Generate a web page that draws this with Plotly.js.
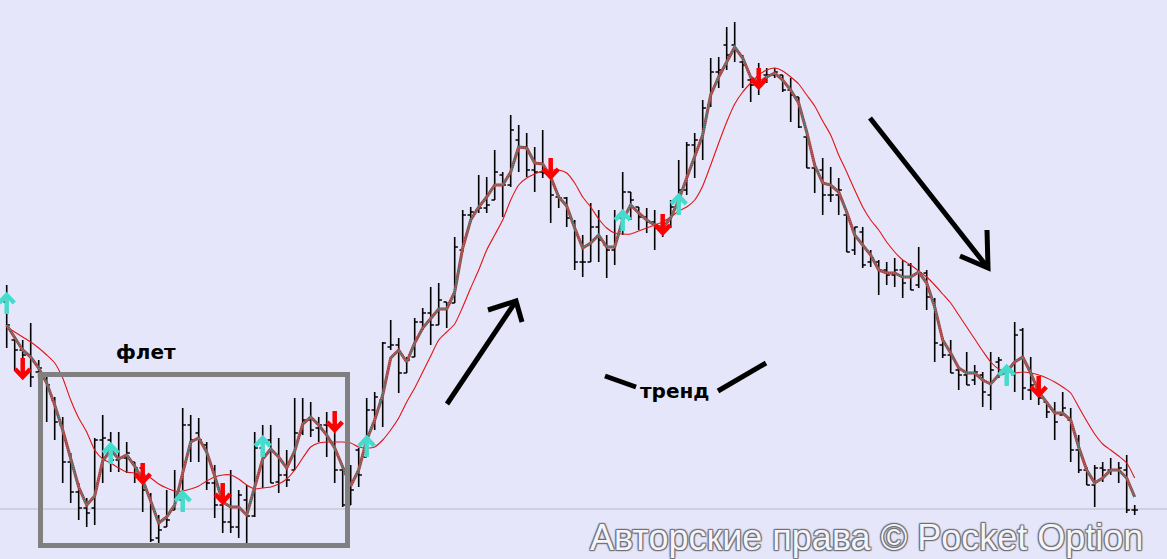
<!DOCTYPE html>
<html>
<head>
<meta charset="utf-8">
<script src="https://cdn.plot.ly/plotly-3.0.1.min.js"></script>
<style>html,body{margin:0;padding:0;background:#E6E6FA;overflow:hidden}#chart{width:1167px;height:559px}</style>
</head>
<body>
<div id="chart"></div>
<script>
// Bar prices (arbitrary price units)
const highs = [315,262,260,277,240,228,203,183,147,117,
102,162,185,168,168,158,138,135,107,85,
110,130,192,185,182,158,135,117,130,110,
115,168,175,175,162,150,202,202,198,183,
188,183,133,135,152,202,208,258,280,262,
243,282,292,313,317,298,363,390,393,425,
423,450,428,485,475,467,453,470,433,405,
403,380,365,397,390,365,390,428,408,393,
392,390,380,400,440,458,467,500,542,543,
573,578,545,523,537,532,532,525,522,503,
465,437,442,433,422,388,373,373,350,340,
338,342,340,337,353,330,302,262,260,233,
248,235,228,248,243,232,278,272,243,218,
198,198,208,192,165,133,135,138,142,138,
145,95];
const lows = [252,230,227,213,222,178,160,117,97,80,
73,75,117,128,128,127,117,88,58,57,
73,90,88,138,138,110,82,67,67,62,
57,83,112,117,107,113,130,165,163,158,
143,117,93,95,113,143,170,173,250,207,
227,243,270,255,275,272,297,348,378,387,
387,400,383,413,428,423,408,422,377,392,
373,330,323,338,338,322,335,365,380,370,
367,350,363,372,390,405,422,440,493,512,
530,538,512,498,505,517,522,508,478,472,
432,407,385,398,385,348,345,332,333,305,
315,313,302,310,312,290,238,242,227,210,
215,215,193,190,222,220,208,200,200,195,
182,160,185,138,127,115,93,118,125,117,
87,85];
const opens = [298,260,250,245,228,225,200,175,138,108,
92,92,160,160,140,142,138,132,105,62,
73,90,100,175,167,155,117,95,78,73,
100,84,152,160,118,125,130,167,180,172,
175,175,130,95,150,143,190,200,253,255,
227,243,278,287,275,298,297,350,385,390,
392,400,425,415,460,453,430,428,427,403,
402,378,338,338,373,355,350,382,408,393,
383,378,372,374,393,410,455,460,495,528,
555,555,538,520,515,525,525,525,510,503,
463,432,430,405,405,385,350,368,338,338,
330,325,330,335,315,327,300,255,245,230,
225,220,225,205,238,228,225,270,210,215,
198,190,185,180,150,130,115,132,130,130,
130,90];
const closes = [275,250,245,223,232,215,178,138,108,92,
87,160,162,140,142,147,132,110,60,70,
80,100,175,160,160,117,95,78,73,105,
84,152,160,117,125,120,167,180,170,175,
175,130,95,110,125,190,203,257,255,227,
240,278,287,275,300,295,353,385,388,392,
395,428,415,470,453,430,428,427,405,402,
382,338,338,373,360,350,382,408,400,383,
378,372,374,393,410,455,460,492,528,530,
545,550,535,515,520,525,528,510,505,473,
432,430,405,405,410,348,373,335,342,330,
325,330,317,310,327,303,257,245,227,225,
215,228,208,230,240,228,265,212,215,202,
188,178,192,150,130,115,132,130,130,132,
90,90];
// Fast moving average
const fastLine = [275,263,250,243,232,217,195,170,142,113,
95,104,139,150,141,145,134,120,99,77,
83,95,127,158,162,148,124,98,93,93,
85,112,141,151,143,132,149,176,183,175,
165,152,133,114,130,160,180,205,242,250,
238,257,272,282,291,291,308,352,380,393,
403,415,415,428,453,452,437,436,423,403,
394,372,352,357,365,353,353,380,395,387,
380,375,372,382,400,422,443,465,505,523,
538,553,542,523,517,523,527,520,510,497,
468,435,417,415,408,388,365,355,345,330,
327,327,323,323,328,317,293,260,247,232,
227,227,220,216,225,228,238,243,227,208,
197,187,187,180,153,130,117,122,130,130,
122,103];
// Slow moving average
const slowLine = [273,268,263,258,252,245,237,222,200,182,
168,150,141,137,132,128,127,126,122,116,
112,109,109,111,114,119,123,125,125,121,
115,111,112,113,116,121,130,142,153,157,
158,158,158,157,153,152,153,160,170,182,
198,212,228,244,260,268,276,293,312,330,
350,365,380,400,415,422,426,429,430,430,
427,417,403,393,381,372,367,366,366,369,
372,375,378,383,389,393,400,414,435,457,
478,496,508,517,525,530,532,529,523,516,
505,494,479,465,445,428,410,393,380,370,
358,348,340,335,329,323,315,306,297,285,
273,261,249,238,231,228,227,228,227,225,
222,218,213,207,193,179,166,156,150,144,
137,122];
// Signals: bar index and arrow tip level
const upSignalBars = [0,13,22,32,45,77,84,125];
const upSignalLevels = [305,155,107,162,162,388,404,233];
const downSignalBars = [2,17,27,41,68,82,94,129];
const downSignalLevels = [223,118,98,170,423,367,513,205];
const levelLine = 91;
const labelFlat = 'флет';
const labelTrend = 'тренд';
const watermark = 'Авторские права © Pocket Option';

const W = 1167, H = 559;
const bars = highs.map((_, i) => i);
const px = x => x / W;
const py = y => 1 - y / H;

// arrow glyph geometry (in axis units: 1 bar wide, price unit)
const SHAFT = 19, ARM_Y = 8, ARM_X = 0.95;
function arrowXY(ks, ps, dir) {
  const xs = [], ys = [];
  ks.forEach((k, i) => {
    const p = ps[i];
    xs.push(k, k, null, k - ARM_X, k, k + ARM_X, null);
    ys.push(p - dir * SHAFT, p - dir * 1, null, p - dir * ARM_Y, p, p - dir * ARM_Y, null);
  });
  return {xs, ys};
}
const up = arrowXY(upSignalBars, upSignalLevels, 1);
const dn = arrowXY(downSignalBars, downSignalLevels, -1);

const traces = [
  {type: 'ohlc', x: bars, open: opens, high: highs, low: lows, close: closes,
   increasing: {line: {color: '#000000', width: 1.6}},
   decreasing: {line: {color: '#000000', width: 1.6}},
   tickwidth: 0.4, hoverinfo: 'skip', showlegend: false},
  {type: 'scatter', mode: 'lines', x: bars, y: slowLine,
   line: {color: 'rgb(225,20,20)', width: 1.1, shape: 'spline', smoothing: 0.6},
   hoverinfo: 'skip', showlegend: false},
  {type: 'scatter', mode: 'lines', x: bars, y: fastLine,
   line: {color: 'rgb(175,55,55)', width: 3}, hoverinfo: 'skip', showlegend: false},
  {type: 'scatter', mode: 'lines', x: bars, y: fastLine,
   line: {color: 'rgb(80,150,140)', width: 2, dash: '1px,1px'}, hoverinfo: 'skip', showlegend: false},
  {type: 'scatter', mode: 'lines', x: up.xs, y: up.ys, connectgaps: false,
   line: {color: 'rgb(70,220,205)', width: 4.5}, hoverinfo: 'skip', showlegend: false},
  {type: 'scatter', mode: 'lines', x: dn.xs, y: dn.ys, connectgaps: false,
   line: {color: 'rgb(255,0,0)', width: 4.5}, hoverinfo: 'skip', showlegend: false}
];

function seg(x0, y0, x1, y1, color, w) {
  return {type: 'line', xref: 'paper', yref: 'paper', x0: px(x0), y0: py(y0), x1: px(x1), y1: py(y1),
          line: {color: color, width: w}};
}
function poly(pts, color, w) {
  const d = pts.map((p, i) => (i ? 'L' : 'M') + px(p[0]).toFixed(5) + ',' + py(p[1]).toFixed(5)).join(' ');
  return {type: 'path', xref: 'paper', yref: 'paper', path: d, line: {color: color, width: w}};
}

const shapes = [
  {type: 'line', xref: 'paper', x0: 0, x1: 1, yref: 'y', y0: levelLine, y1: levelLine,
   line: {color: '#b9b9c4', width: 1}, layer: 'below'},
  {type: 'rect', xref: 'paper', yref: 'paper', x0: px(40.5), x1: px(347.5), y0: py(545.5), y1: py(374.5),
   line: {color: '#808080', width: 5}},
  seg(447, 404, 516, 301, '#000', 5),
  poly([[488, 310], [516, 301], [522, 322]], '#000', 5),
  seg(870, 118, 988, 268, '#000', 5),
  poly([[960, 256], [988, 268], [987, 230]], '#000', 5),
  seg(605, 376, 636, 387, '#000', 5),
  seg(718, 391, 766, 363, '#000', 5)
];

const annotations = [
  {xref: 'paper', yref: 'paper', x: px(146), y: py(352), text: labelFlat, showarrow: false,
   xanchor: 'center', yanchor: 'middle',
   font: {family: 'DejaVu Sans', size: 20, color: '#000', weight: 'bold'}},
  {xref: 'paper', yref: 'paper', x: px(674), y: py(391), text: labelTrend, showarrow: false,
   xanchor: 'center', yanchor: 'middle',
   font: {family: 'DejaVu Sans', size: 20, color: '#000', weight: 'bold'}},
  {xref: 'paper', yref: 'paper', x: px(1145), y: py(537), text: watermark, showarrow: false,
   xanchor: 'right', yanchor: 'middle',
   font: {family: 'Liberation Sans, Arial, sans-serif', size: 36, color: '#f4f4fb',
          shadow: '1px 1px 1px #6e6e74, -1px -1px 1px #6e6e74, 1px -1px 1px #6e6e74, -1px 1px 1px #6e6e74, 0 0 2px #6e6e74'}}
];

const layout = {
  width: W, height: H,
  margin: {l: 0, r: 0, t: 0, b: 0, pad: 0},
  paper_bgcolor: '#E6E6FA', plot_bgcolor: '#E6E6FA',
  showlegend: false,
  xaxis: {range: [-0.8375, 145.0375], visible: false, showgrid: false, zeroline: false,
          rangeslider: {visible: false}, fixedrange: true},
  yaxis: {range: [41, 600], visible: false, showgrid: false, zeroline: false, fixedrange: true},
  shapes: shapes,
  annotations: annotations
};

Plotly.newPlot('chart', traces, layout, {staticPlot: true, displayModeBar: false});
</script>
</body>
</html>
